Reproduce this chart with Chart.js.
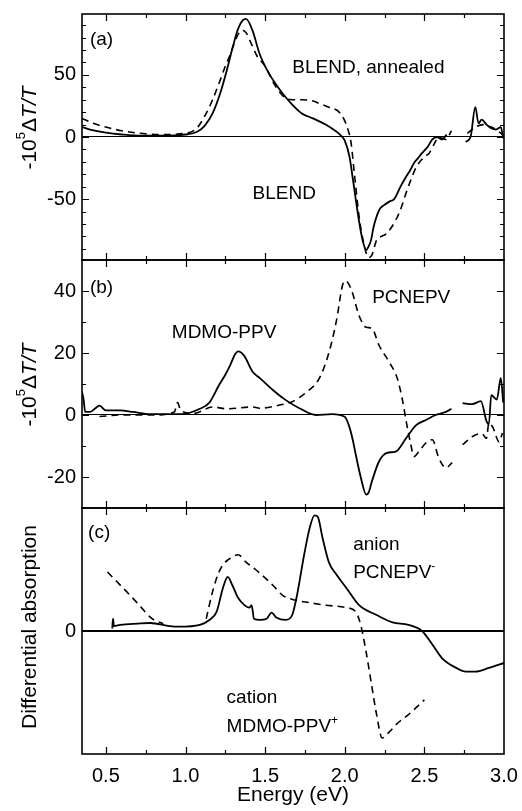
<!DOCTYPE html>
<html>
<head>
<meta charset="utf-8">
<script src="https://cdn.jsdelivr.net/npm/chart.js@4.4.0/dist/chart.umd.min.js"></script>
<style>
  html, body { margin: 0; padding: 0; background: #fff; }
  #wrap { position: relative; width: 522px; height: 811px; }
  .panel { position: absolute; left: 0; width: 522px; }
</style>
</head>
<body>
<div id="wrap">
  <div class="panel" style="top:0;height:262px"><canvas id="chartA"></canvas></div>
  <div class="panel" style="top:258px;height:252px"><canvas id="chartB"></canvas></div>
  <div class="panel" style="top:506px;height:305px"><canvas id="chartC"></canvas></div>
</div>
<script>
// energy axis labels (eV)
const energyLabels = [0.5, 1.0, 1.5, 2.0, 2.5, 3.0];

// (a) blend, solid and dashed traces (-10^5 dT/T)
const aSolidE = [0.35, 0.40, 0.50, 0.60, 0.72, 0.85, 1.00, 1.07, 1.12, 1.17, 1.22, 1.26, 1.30, 1.33, 1.36, 1.38, 1.42, 1.465, 1.52, 1.57, 1.61, 1.67, 1.73, 1.80, 1.88, 1.94, 1.97, 2.00, 2.03, 2.05, 2.07, 2.09, 2.11, 2.135, 2.15, 2.165, 2.18, 2.20, 2.22, 2.245, 2.28, 2.31, 2.35, 2.385, 2.41, 2.435, 2.46, 2.485, 2.52, 2.55, 2.58, 2.61, 2.64, 2.70, 2.76, 2.79, 2.82, 2.84, 2.86, 2.89, 2.92, 2.95, 2.98, 2.995];
const aSolidV = [8, 6, 3.5, 2, 1, 1, 2, 4, 9, 19, 36, 54, 74, 87, 94, 95, 86, 67, 52, 42, 35, 26, 19, 15, 10, 5, 2, -3, -16, -33, -51, -68, -82, -91, -88, -83, -73, -64, -58, -55, -52, -50, -40, -32, -27, -21, -17, -13, -8, -2, 0, -2, 2, null, -4, 0, 24, 11, 14, 10, 7, 6, 8, -1];
const aDashE = [0.35, 0.42, 0.50, 0.60, 0.71, 0.85, 1.00, 1.07, 1.13, 1.17, 1.21, 1.25, 1.28, 1.32, 1.355, 1.38, 1.41, 1.45, 1.50, 1.56, 1.62, 1.67, 1.73, 1.80, 1.84, 1.90, 1.965, 2.00, 2.02, 2.04, 2.06, 2.09, 2.12, 2.15, 2.17, 2.20, 2.23, 2.26, 2.32, 2.36, 2.385, 2.42, 2.45, 2.50, 2.53, 2.56, 2.59, 2.635, 2.67, 2.72, 2.77, 2.82, 2.87, 2.92, 2.96, 2.99];
const aDashV = [15, 11, 8, 5, 3, 2, 3, 7, 19, 30, 43, 57, 66, 80, 86, 84, 76, 65, 57, 42, 32, 30, 30, 29, 27, 24, 20, 13, 6, -5, -29, -64, -86, -97, -95, -83, -80, -78, -67, -55, -45, -33, -24, -16, -13, -6, 0, -2, 5, null, 3, 8, 10, 8, 5, 2];

// (b) MDMO-PPV (solid) and PCNEPV (dashed)
const bSolidE = [0.35, 0.36, 0.37, 0.40, 0.43, 0.46, 0.50, 0.59, 0.67, 0.78, 0.98, 1.09, 1.15, 1.21, 1.25, 1.28, 1.31, 1.33, 1.37, 1.42, 1.465, 1.55, 1.63, 1.715, 1.82, 1.92, 2.00, 2.03, 2.05, 2.07, 2.10, 2.135, 2.15, 2.17, 2.215, 2.265, 2.32, 2.385, 2.45, 2.51, 2.57, 2.635, 2.67, 2.70, 2.74, 2.80, 2.855, 2.89, 2.905, 2.92, 2.955, 2.98, 2.995];
const bSolidV = [7.5, 5, 1, 1, 2, 3, 1.5, 1.5, 1, 0.3, 0.3, 2, 4, 9.6, 13, 16, 19.5, 20.5, 19, 14, 12, 8, 4.8, 2.2, 0, 0.3, -0.6, -4, -8, -13, -20, -25.7, -25, -21.5, -15, -12.2, -11.8, -7.5, -3.2, -1.6, 0, 1, 2, null, 3.8, 3.5, 4.5, -2, -3, 6.4, 5, 12, 4];
const bDashE = [0.46, 0.60, 0.80, 0.93, 0.95, 0.97, 1.05, 1.17, 1.26, 1.42, 1.465, 1.59, 1.67, 1.76, 1.84, 1.90, 1.95, 1.985, 2.003, 2.04, 2.09, 2.135, 2.17, 2.215, 2.28, 2.33, 2.36, 2.39, 2.415, 2.435, 2.465, 2.51, 2.55, 2.59, 2.635, 2.675, 2.71, 2.74, 2.80, 2.86, 2.89, 2.905, 2.93, 2.97, 2.99];
const bDashV = [-0.5, 0, 0, 1, 4, 1.5, 0.5, 2.6, 2, 2.6, 2.2, 3.2, 4.3, 7.4, 11.8, 20, 31, 41.7, 43.3, 40.7, 32, 28.3, 28, 22.5, 17, 11.8, 5.4, -3.2, -9.6, -13.4, -11.8, -9, -8, -13.8, -17, -15.4, null, -9.6, -7, -6, -7.5, -2.6, -4, -8.7, -5.8];

// (c) differential absorption: PCNEPV anion (solid), MDMO-PPV cation (dashed)
const cSolidE = [0.54, 0.545, 0.55, 0.59, 0.70, 0.78, 0.90, 0.96, 1.09, 1.15, 1.195, 1.235, 1.265, 1.295, 1.33, 1.37, 1.40, 1.415, 1.43, 1.465, 1.51, 1.54, 1.57, 1.63, 1.67, 1.70, 1.745, 1.78, 1.81, 1.83, 1.86, 1.90, 1.95, 2.01, 2.09, 2.20, 2.30, 2.40, 2.485, 2.55, 2.61, 2.70, 2.76, 2.82, 2.905, 3.00];
const cSolidV = [0.02, 0.1, 0.04, 0.05, 0.06, 0.065, 0.04, 0.035, 0.05, 0.09, 0.155, 0.35, 0.44, 0.37, 0.27, 0.21, 0.19, 0.21, 0.1, 0.09, 0.1, 0.15, 0.11, 0.09, 0.13, 0.29, 0.62, 0.84, 0.94, 0.93, 0.76, 0.56, 0.455, 0.35, 0.21, 0.13, 0.07, 0.05, 0, -0.11, -0.22, -0.30, -0.33, -0.33, -0.30, -0.26];
const cDashE = [0.51, 0.57, 0.63, 0.71, 0.79, 0.86, 1.00, 1.13, 1.17, 1.21, 1.25, 1.28, 1.33, 1.38, 1.44, 1.48, 1.55, 1.61, 1.69, 1.78, 1.88, 2.01, 2.07, 2.10, 2.13, 2.165, 2.20, 2.235, 2.28, 2.34, 2.40, 2.50];
const cDashV = [0.48, 0.40, 0.32, 0.21, 0.10, 0.06, null, 0.10, 0.32, 0.48, 0.56, 0.59, 0.62, 0.56, 0.50, 0.455, 0.37, 0.29, 0.25, 0.23, 0.21, 0.19, 0.155, 0.05, -0.14, -0.41, -0.68, -0.87, -0.82, -0.74, -0.68, -0.56];

const FONT = '"Liberation Sans", Arial, Helvetica, sans-serif';
const tickFont = { family: FONT, size: 20 };

const pts = (es, vs) => es.map((e, i) => ({ x: e, y: vs[i] }));

function solid(es, vs) {
  return { data: pts(es, vs), borderColor: '#000', borderWidth: 1.8, pointRadius: 0,
           cubicInterpolationMode: 'monotone', fill: false, spanGaps: false };
}
function dashed(es, vs) {
  return { data: pts(es, vs), borderColor: '#000', borderWidth: 1.6, borderDash: [7, 5], pointRadius: 0,
           cubicInterpolationMode: 'monotone', fill: false, spanGaps: false };
}

// draws a run of text pieces, some italic or superscript
function drawRich(ctx, parts, x, y, size, align) {
  const fontFor = p => `${p.italic ? 'italic ' : ''}${p.sup ? Math.round(size * 0.62) : size}px ${FONT}`;
  let w = 0;
  parts.forEach(p => { ctx.font = fontFor(p); w += ctx.measureText(p.t).width; });
  let cx = align === 'center' ? x - w / 2 : x;
  parts.forEach(p => {
    ctx.font = fontFor(p);
    ctx.fillText(p.t, cx, p.sup ? y - size * 0.42 : y);
    cx += ctx.measureText(p.t).width;
  });
}

// frame, inward ticks on all sides, rotated y title and text labels
const panelDecor = {
  id: 'panelDecor',
  afterDatasetsDraw(chart, args, o) {
    const { ctx, chartArea: a, scales: { x, y } } = chart;
    ctx.save();
    ctx.strokeStyle = '#000';
    ctx.fillStyle = '#000';
    ctx.lineWidth = 1.2;
    ctx.beginPath();
    for (let e = 0.5; e < 3.0; e += 0.25) {
      const px = Math.round(x.getPixelForValue(e)) + 0.5;
      const len = Math.abs(e * 2 - Math.round(e * 2)) < 1e-6 ? 7 : 4;
      ctx.moveTo(px, a.top); ctx.lineTo(px, a.top + len);
      ctx.moveTo(px, a.bottom); ctx.lineTo(px, a.bottom - len);
    }
    if (o.yMinor) {
      const start = Math.ceil(y.min / o.yMinor) * o.yMinor;
      for (let v = start; v <= y.max; v += o.yMinor) {
        const py = Math.round(y.getPixelForValue(v)) + 0.5;
        const len = v % o.yMajor === 0 ? 7 : 4;
        ctx.moveTo(a.left, py); ctx.lineTo(a.left + len, py);
        ctx.moveTo(a.right, py); ctx.lineTo(a.right - len, py);
      }
    }
    ctx.stroke();
    ctx.lineWidth = 1.6;
    ctx.strokeRect(a.left, a.top, a.right - a.left, a.bottom - a.top);

    ctx.textBaseline = 'alphabetic';
    ctx.textAlign = 'left';
    o.labels.forEach(l => drawRich(ctx, l.parts, x.getPixelForValue(l.e), y.getPixelForValue(l.v), 19, 'left'));

    ctx.translate(30, (a.top + a.bottom) / 2 + o.titleShift);
    ctx.rotate(-Math.PI / 2);
    ctx.textBaseline = 'middle';
    drawRich(ctx, o.title, 0, 0, 21, 'center');
    ctx.restore();
  }
};

const dTT = [{ t: '-10' }, { t: '5', sup: true }, { t: '\u0394' }, { t: 'T/T', italic: true }];

function panelOptions(cfg) {
  return {
    responsive: true,
    maintainAspectRatio: false,
    animation: false,
    events: [],
    layout: { padding: cfg.padding },
    plugins: { legend: { display: false }, tooltip: { enabled: false }, panelDecor: cfg.decor },
    scales: {
      x: {
        type: 'linear', min: 0.35, max: 3.0, display: cfg.showX,
        afterBuildTicks: s => { s.ticks = energyLabels.map(v => ({ value: v })); },
        afterFit: s => {
          s.height = cfg.showX ? 57 : 0;
          s.paddingLeft = 0;
          s.paddingRight = 0;
        },
        grid: { display: false, drawTicks: false },
        border: { display: false },
        ticks: { font: tickFont, color: '#000', padding: 10, maxRotation: 0, callback: v => v.toFixed(1) },
        title: { display: true, text: 'Energy (eV)', font: { family: FONT, size: 21 }, color: '#000',
                 padding: { top: 0, bottom: 3 } }
      },
      y: {
        type: 'linear', min: cfg.yMin, max: cfg.yMax,
        afterBuildTicks: s => { s.ticks = cfg.yLabels.map(v => ({ value: v })); },
        afterFit: s => { s.width = 82; s.paddingTop = 0; s.paddingBottom = 0; },
        grid: { drawTicks: false, lineWidth: cfg.zeroWidth,
                color: c => (c.tick && c.tick.value === 0 ? '#000' : 'rgba(0,0,0,0)') },
        border: { display: false },
        ticks: { font: tickFont, color: '#000', padding: 6, callback: v => String(v) }
      }
    }
  };
}

new Chart(document.getElementById('chartA'), {
  type: 'line',
  data: { datasets: [solid(aSolidE, aSolidV), dashed(aDashE, aDashV)] },
  options: panelOptions({
    padding: { top: 14, bottom: 2, left: 0, right: 18 }, showX: false,
    yMin: -99, yMax: 99, yLabels: [-50, 0, 50], zeroWidth: 1.1,
    decor: {
      yMinor: 10, yMajor: 50, title: dTT, titleShift: -9,
      labels: [
        { e: 0.40, v: 74, parts: [{ t: '(a)' }] },
        { e: 1.671, v: 51.6, parts: [{ t: 'BLEND, annealed' }] },
        { e: 1.421, v: -50, parts: [{ t: 'BLEND' }] }
      ]
    }
  }),
  plugins: [panelDecor]
});

new Chart(document.getElementById('chartB'), {
  type: 'line',
  data: { datasets: [solid(bSolidE, bSolidV), dashed(bDashE, bDashV)] },
  options: panelOptions({
    padding: { top: 2, bottom: 2, left: 0, right: 18 }, showX: false,
    yMin: -30, yMax: 50, yLabels: [-20, 0, 20, 40], zeroWidth: 1.1,
    decor: {
      yMinor: 10, yMajor: 20, title: dTT, titleShift: 1,
      labels: [
        { e: 0.40, v: 39.5, parts: [{ t: '(b)' }] },
        { e: 0.914, v: 25, parts: [{ t: 'MDMO-PPV' }] },
        { e: 2.172, v: 36, parts: [{ t: 'PCNEPV' }] }
      ]
    }
  }),
  plugins: [panelDecor]
});

new Chart(document.getElementById('chartC'), {
  type: 'line',
  data: { datasets: [solid(cSolidE, cSolidV), dashed(cDashE, cDashV)] },
  options: panelOptions({
    padding: { top: 2, bottom: 0, left: 0, right: 18 }, showX: true,
    yMin: -1, yMax: 1, yLabels: [0], zeroWidth: 2,
    decor: {
      yMinor: 0, yMajor: 0, title: [{ t: 'Differential absorption' }], titleShift: -4,
      labels: [
        { e: 0.388, v: 0.756, parts: [{ t: '(c)' }] },
        { e: 2.053, v: 0.66, parts: [{ t: 'anion' }] },
        { e: 2.053, v: 0.43, parts: [{ t: 'PCNEPV' }, { t: '-', sup: true }] },
        { e: 1.258, v: -0.585, parts: [{ t: 'cation' }] },
        { e: 1.258, v: -0.82, parts: [{ t: 'MDMO-PPV' }, { t: '+', sup: true }] }
      ]
    }
  }),
  plugins: [panelDecor]
});
</script>
</body>
</html>
